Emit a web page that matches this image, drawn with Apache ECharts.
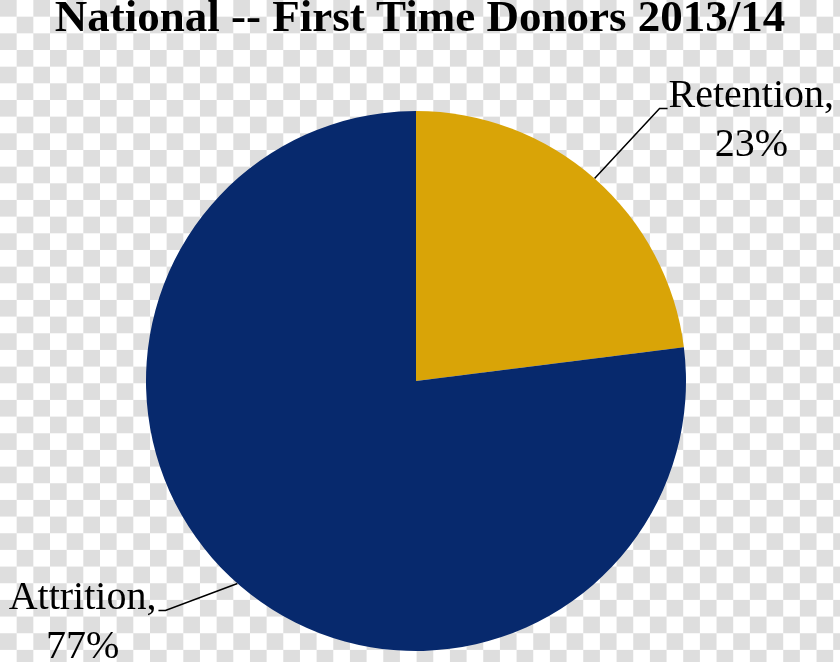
<!DOCTYPE html>
<html>
<head>
<meta charset="utf-8">
<script src="https://cdn.jsdelivr.net/npm/echarts@6/dist/echarts.min.js"></script>
<style>
html, body { margin: 0; padding: 0; }
#chart {
  width: 840px; height: 662px;
  background-color: #fff;
  background-image: conic-gradient(#fff 0 25%, #dedede 0 50%, #fff 0 75%, #dedede 0);
  background-size: 33.34px 33.34px;
}
</style>
</head>
<body>
<div id="chart"></div>
<script>
const titleText = 'National -- First Time Donors 2013/14';
const categories = ['Retention', 'Attrition'];
const values = [23, 77];
const colors = ['#D9A407', '#07296D'];

const chart = echarts.init(document.getElementById('chart'), null, { renderer: 'canvas' });

const data = categories.map((c, i) => ({ name: c, value: values[i], itemStyle: { color: colors[i] } }));

chart.setOption({
  backgroundColor: 'transparent',
  animation: false,
  title: {
    text: titleText,
    left: 'center',
    top: -3,
    padding: [0, 11, 0, 0],
    textStyle: {
      fontFamily: '"Liberation Serif", "Times New Roman", serif',
      fontWeight: 'bold',
      fontSize: 45,
      lineHeight: 45,
      color: '#000'
    }
  },
  series: [{
    type: 'pie',
    center: [416, 381],
    radius: 270,
    startAngle: 90,
    clockwise: true,
    avoidLabelOverlap: false,
    data: data,
    label: {
      show: true,
      position: 'outer',
      alignTo: 'none',
      formatter: p => p.name + ',\n' + p.value + '%',
      fontFamily: '"Liberation Serif", "Times New Roman", serif',
      fontSize: 40,
      lineHeight: 49,
      color: '#000',
      align: 'center'
    },
    labelLine: {
      show: true,
      length: 40,
      length2: 8,
      smooth: false,
      lineStyle: { color: '#000', width: 1.5 }
    },
    labelLayout: function (params) {
      const p0 = params.labelLinePoints[0];
      const w = params.labelRect.width;
      if (params.dataIndex === 0) {
        const bend = [p0[0] + 65, p0[1] - 70];
        const end = [bend[0] + 8, bend[1]];
        return {
          x: end[0] + 1 + w / 2,
          y: end[1] - 36.7,
          align: 'center',
          verticalAlign: 'top',
          labelLinePoints: [p0, bend, end]
        };
      } else {
        const bend = [p0[0] - 72, p0[1] + 27];
        const end = [bend[0] - 7, bend[1]];
        return {
          x: end[0] - 2 - w / 2,
          y: end[1] - 36.7,
          align: 'center',
          verticalAlign: 'top',
          labelLinePoints: [p0, bend, end]
        };
      }
    },
    itemStyle: { borderWidth: 0 },
    emphasis: { disabled: true }
  }]
});
</script>
</body>
</html>
